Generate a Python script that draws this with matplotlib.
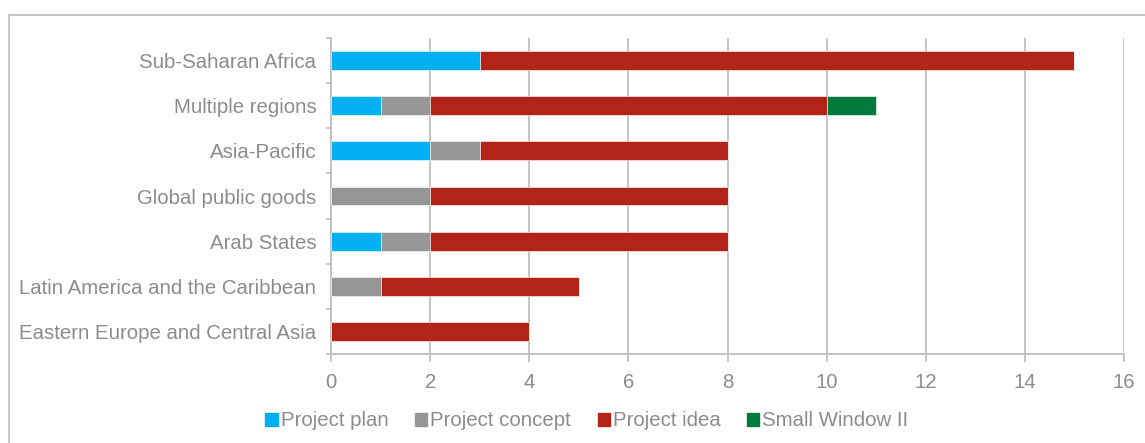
import matplotlib.pyplot as plt
import numpy as np
from matplotlib.patches import Rectangle
from matplotlib.lines import Line2D

plt.rcParams['font.family'] = ['Liberation Sans', 'DejaVu Sans']

regions = ['Eastern Europe and Central Asia', 'Latin America and the Caribbean',
           'Arab States', 'Global public goods', 'Asia-Pacific',
           'Multiple regions', 'Sub-Saharan Africa']
project_plan = [0, 0, 1, 0, 2, 1, 3]
project_concept = [0, 1, 1, 2, 1, 1, 0]
project_idea = [4, 4, 6, 6, 5, 8, 12]
small_window = [0, 0, 0, 0, 0, 1, 0]

series = [('Project plan', project_plan, '#00b0f0'),
          ('Project concept', project_concept, '#969696'),
          ('Project idea', project_idea, '#b22418'),
          ('Small Window II', small_window, '#007a3d')]

text_col = '#8c8c8c'
grid_col = '#bfbfbf'
fs = 14.7

fig = plt.figure(figsize=(11.45, 4.43), dpi=100)
ax = fig.add_axes([331 / 1145, 1 - 354 / 443, 793 / 1145, 316 / 443])

y = np.arange(len(regions))
left = np.zeros(len(regions))
for name, vals, col in series:
    vals = np.array(vals, dtype=float)
    ax.barh(y, vals, left=left, height=0.42, color=col, label=name,
            edgecolor='white', linewidth=0.4, zorder=3)
    left += vals

ax.set_xlim(0, 16)
ax.set_ylim(-0.5, len(regions) - 0.5)
ax.set_xticks(np.arange(0, 17, 2))
ax.set_yticks(y)
ax.set_yticklabels(regions)
ax.tick_params(axis='both', colors=grid_col, labelcolor=text_col, labelsize=fs,
               width=1.3)
ax.tick_params(axis='y', length=0, pad=10.5)
ax.tick_params(axis='x', length=6, pad=8)

# category separators on the y axis
for b in np.arange(-0.5, len(regions), 1.0):
    ax.plot([-0.09, 0], [b, b], color=grid_col, lw=1.3, clip_on=False, zorder=4)

ax.grid(axis='x', color=grid_col, lw=1.3, zorder=0)
for s in ['top', 'right']:
    ax.spines[s].set_visible(False)
for s in ['left', 'bottom']:
    ax.spines[s].set_color(grid_col)
    ax.spines[s].set_linewidth(1.3)

# outer frame (top and left edges)
fig.add_artist(Line2D([9 / 1145, 1.0], [1 - 15 / 443] * 2, color='#c8c8c8', lw=1.5))
fig.add_artist(Line2D([9 / 1145] * 2, [0, 1 - 15 / 443], color='#c8c8c8', lw=1.5))

handles = [Rectangle((0, 0), 1, 1, color=c) for _, _, c in series]
labels = [n for n, _, _ in series]
fig.legend(handles, labels, loc='center', bbox_to_anchor=(587 / 1145, 1 - 421 / 443),
           ncol=4, frameon=False, fontsize=fs, labelcolor=text_col,
           handlelength=0.6, handleheight=0.6, handletextpad=0.15, columnspacing=1.3)

fig.savefig('out.png', dpi=100)
